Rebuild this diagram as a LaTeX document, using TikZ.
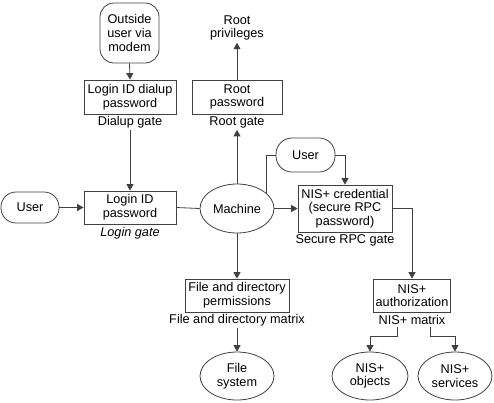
\documentclass[tikz,border=0pt]{standalone}
\usepackage{fontspec}
\setmainfont{Liberation Sans}
\usetikzlibrary{shapes.geometric,arrows.meta}
\begin{document}
\begin{tikzpicture}[x=1pt,y=-1pt,
  every node/.style={font=\fontsize{12.7}{13.7}\selectfont, align=center, text=black},
  boxnode/.style={draw=black!75, line width=0.8pt, rectangle, inner sep=0pt},
  termnode/.style={draw=black!75, line width=0.8pt, rectangle, inner sep=0pt},
  ovalnode/.style={draw=black!75, line width=0.8pt, ellipse, inner sep=0pt},
  lbl/.style={inner sep=2pt},
  conn/.style={draw=black!75, line width=0.8pt},
  arr/.style={conn, -{Triangle[width=7pt,length=6.5pt]}}
]
\useasboundingbox (0,0) rectangle (494,402);

% nodes
\node[termnode, rounded corners=14pt, minimum width=59pt, minimum height=60pt] (outside) at (129.5,33) {Outside\\user via\\modem};
\node[boxnode, minimum width=92pt, minimum height=34pt] (dialup) at (130,97) {Login ID dialup\\password};
\node[lbl] (dgate) at (130,122) {Dialup gate};
\node[boxnode, minimum width=92pt, minimum height=33pt] (login) at (130,207.5) {Login ID\\password};
\node[lbl] (lgate) at (130,233) {\itshape Login gate};
\node[termnode, rounded corners=15pt, minimum width=58pt, minimum height=31pt] (user1) at (30,207.5) {User};
\node[ovalnode, minimum width=74pt, minimum height=49pt] (machine) at (237,208.5) {Machine};
\node[boxnode, minimum width=90pt, minimum height=34pt] (rootpw) at (237,97) {Root\\password};
\node[lbl] (rgate) at (237,122) {Root gate};
\node[lbl] (rootpriv) at (237,28) {Root\\privileges};
\node[termnode, rounded corners=16pt, minimum width=59pt, minimum height=34pt] (user2) at (305.5,155) {User};
\node[boxnode, minimum width=94pt, minimum height=47pt] (cred) at (345,208.5) {NIS+ credential\\(secure RPC\\password)};
\node[lbl] (sgate) at (345,240) {Secure RPC gate};
\node[boxnode, minimum width=77pt, minimum height=33pt] (auth) at (412,295.5) {NIS+\\authorization};
\node[lbl] (nmatrix) at (412,320) {NIS+ matrix};
\node[boxnode, minimum width=104pt, minimum height=33pt] (fdperm) at (237,295.5) {File and directory\\permissions};
\node[lbl] (fdmatrix) at (237,320) {File and directory matrix};
\node[ovalnode, minimum width=74pt, minimum height=48pt] (fs) at (237,376) {File\\system};
\node[ovalnode, minimum width=76pt, minimum height=48pt] (nisobj) at (370,376) {NIS+\\objects};
\node[ovalnode, minimum width=74pt, minimum height=48pt] (nissvc) at (455,376) {NIS+\\services};

% connectors
\draw[arr] (outside.south) -- (dialup.north);
\draw[arr] (dgate.south) -- (login.north);
\draw[arr] (user1.east) -- (login.west);
\draw[conn] (login.east) -- (machine.west);
\draw[arr] (machine.north) -- (rgate.south);
\draw[arr] (rootpw.north) -- (rootpriv.south);
\draw[conn] (machine.28) |- (user2.west);
\draw[arr] (user2.east) -| (cred.north);
\draw[arr] (machine.east) -- (cred.west);
\draw[arr] (cred.east) -| (auth.north);
\draw[arr] (machine.south) -- (fdperm.north);
\draw[arr] (fdmatrix.south) -- (fs.north);
\draw[arr] ([xshift=-15pt]nmatrix.south) -- ++(0,10) -| (nisobj.north);
\draw[arr] ([xshift=18pt]nmatrix.south) -- ++(0,10) -| (nissvc.north);
\end{tikzpicture}
\end{document}
